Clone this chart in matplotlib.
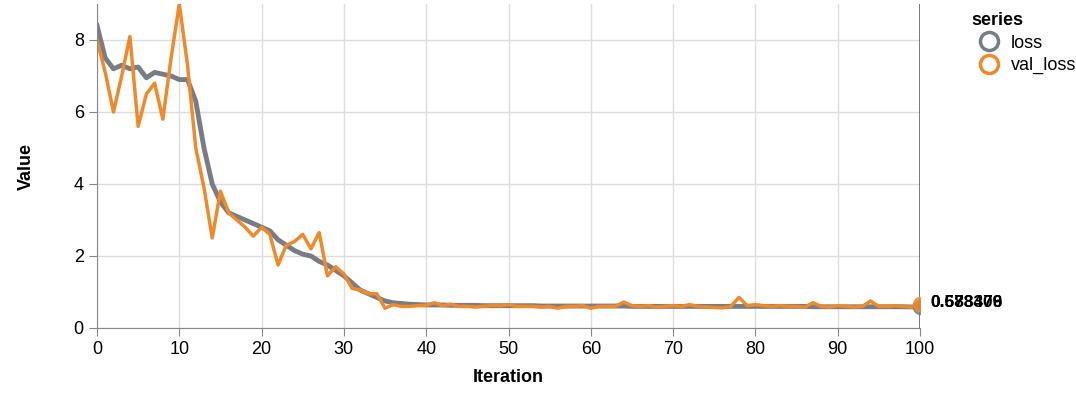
import matplotlib
matplotlib.use('Agg')
import matplotlib.pyplot as plt
from matplotlib.lines import Line2D

# 読み取った値
iters = list(range(101))
loss_head = [8.4, 7.5, 7.2, 7.3, 7.2, 7.25, 6.95, 7.1, 7.05, 7.0, 6.9, 6.9, 6.3, 5.0, 4.0, 3.5,
             3.2, 3.1, 3.0, 2.9, 2.8, 2.7, 2.45, 2.3, 2.15, 2.05, 2.0, 1.85, 1.75, 1.6, 1.45,
             1.25, 1.05, 0.95, 0.85, 0.75, 0.7, 0.68, 0.66, 0.65, 0.64]
loss_tail = [0.64, 0.64, 0.63, 0.63, 0.63, 0.63, 0.62, 0.62, 0.62, 0.62, 0.62, 0.62, 0.62, 0.61,
             0.61, 0.61, 0.61, 0.61, 0.61, 0.61, 0.61, 0.61, 0.61, 0.61, 0.6, 0.6, 0.6, 0.6,
             0.6, 0.6, 0.6, 0.6, 0.6, 0.6, 0.6, 0.6, 0.6, 0.6, 0.6, 0.6, 0.6, 0.6, 0.6, 0.6,
             0.6, 0.6, 0.59, 0.59, 0.59, 0.59, 0.59, 0.59, 0.59, 0.59, 0.59, 0.59, 0.59, 0.59,
             0.585, 0.583376]
loss = loss_head + loss_tail
val_head = [8.0, 7.1, 6.0, 7.0, 8.1, 5.6, 6.5, 6.8, 5.8, 7.5, 9.0, 7.3, 5.0, 3.9, 2.5, 3.8,
            3.2, 3.0, 2.8, 2.55, 2.8, 2.6, 1.75, 2.3, 2.4, 2.6, 2.2, 2.65, 1.45, 1.7, 1.5,
            1.1, 1.05, 0.95, 0.95, 0.55, 0.65, 0.6, 0.6, 0.62, 0.63]
val_tail = [0.7, 0.62, 0.66, 0.6, 0.6, 0.58, 0.6, 0.63, 0.62, 0.65, 0.6, 0.6, 0.6, 0.58,
            0.6, 0.55, 0.6, 0.6, 0.62, 0.55, 0.6, 0.6, 0.6, 0.72, 0.62, 0.6, 0.62, 0.58,
            0.6, 0.62, 0.6, 0.65, 0.6, 0.58, 0.57, 0.56, 0.6, 0.85, 0.62, 0.65, 0.62, 0.6,
            0.62, 0.6, 0.6, 0.58, 0.7, 0.6, 0.58, 0.62, 0.6, 0.58, 0.6, 0.75, 0.6, 0.6,
            0.62, 0.6, 0.58, 0.678409]
val_loss = val_head + val_tail
series = ['loss', 'val_loss']
colors = ['#787d85', '#f0892a']

plt.rcParams['font.family'] = ['Liberation Sans', 'DejaVu Sans']
fig = plt.figure(figsize=(10.76, 4.0), dpi=100)
ax = fig.add_axes([97 / 1076, 72 / 400, 823 / 1076, 324 / 400])

ax.plot(iters, loss, color=colors[0], lw=3.5, solid_joinstyle='round')
ax.plot(iters, val_loss, color=colors[1], lw=2.5, solid_joinstyle='round')
# 最後の点とラベル（参考図と同じく重なっている）
ax.axvline(100, color='#555555', lw=1.8)
for vals, c in zip([loss, val_loss], colors):
    ax.plot(100, vals[-1], 'o', ms=10, mfc=c, mec=c, alpha=0.8)
    ax.text(101.2, 0.7, '%.6f' % vals[-1], fontsize=12.5, fontweight='bold', va='center')

ax.set_xlim(0, 100)
ax.set_ylim(0, 9)
ax.set_xticks(range(0, 101, 10))
ax.set_yticks(range(0, 9, 2))
ax.grid(color='#dddddd', lw=1)
ax.set_axisbelow(True)
for s in ['top', 'right']:
    ax.spines[s].set_visible(False)
for s in ['left', 'bottom']:
    ax.spines[s].set_color('#888888')
ax.tick_params(colors='#888888', labelcolor='black', labelsize=13, length=6)
ax.set_xlabel('Iteration', fontsize=13, fontweight='bold', labelpad=8)
ax.set_ylabel('Value', fontsize=13, fontweight='bold', labelpad=28)

handles = [Line2D([], [], ls='', marker='o', ms=13, mfc='none', mec=c, mew=2.5) for c in colors]
leg = fig.legend(handles, series, title='series', loc='upper left', bbox_to_anchor=(955 / 1076, 1.01),
                 frameon=False, fontsize=13, handletextpad=0.2, labelspacing=0.3, alignment='left')
leg.get_title().set_fontweight('bold')
leg.get_title().set_fontsize(13)

fig.savefig('out.png', dpi=100)
